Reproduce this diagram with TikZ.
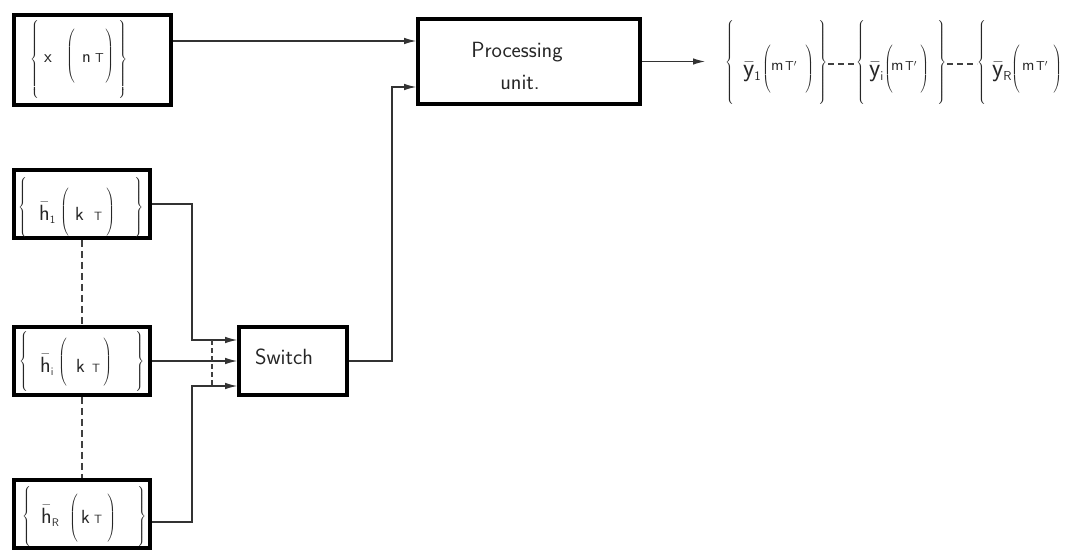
\documentclass[tikz,border=0pt]{standalone}
\usepackage{fix-cm}
\usetikzlibrary{arrows.meta,calc}
\newcommand\dl[1]{\vrule height \dimexpr#1pt+2.5pt+0.25em\relax depth \dimexpr#1pt+2.5pt-0.25em\relax width 0pt}
\newcommand\LB[1]{$\left\{\dl{#1}\right.$}
\newcommand\RB[1]{$\left.\dl{#1}\right\}$}
\newcommand\LP[1]{$\left(\dl{#1}\right.$}
\newcommand\RP[1]{$\left.\dl{#1}\right)$}
\newcommand\at[3]{\rlap{\hspace*{#1pt}\raisebox{#2pt}{#3}}}
\newcommand\fs[1]{\fontsize{#1}{#1}\selectfont}
\newcommand\subx[1]{_{\scriptscriptstyle\mathsf{#1}}}
\begin{document}
\begin{tikzpicture}[x=1pt,y=-1pt,
  box/.style={draw=black, line width=3.6pt, inner sep=0pt},
  ln/.style={line width=1.1pt, draw=black!80},
  arr/.style={ln, -{Latex[length=12pt,width=6.5pt]}},
  dsh/.style={line width=1.1pt, draw=black!75, dash pattern=on 7pt off 4pt},
  lbl/.style={font=\fontsize{22}{26}\selectfont\sffamily, text=black!85},
  fml/.style={font=\fontsize{18}{22}\selectfont, inner sep=0pt, anchor=base west, text=black!85}]
\useasboundingbox (0,0) rectangle (1065,551);
% boxes
\node[box, minimum width=157pt, minimum height=90pt] (xb) at (92.5,60) {};
\node[box, minimum width=222pt, minimum height=85pt] (pu) at (529,61.5) {};
\node[box, minimum width=136pt, minimum height=68pt] (h1) at (82,204) {};
\node[box, minimum width=136pt, minimum height=68pt] (hi) at (82,361) {};
\node[box, minimum width=136pt, minimum height=68pt] (hR) at (82,514) {};
\node[box, minimum width=108pt, minimum height=68pt] (sw) at (293,361) {};
% box texts
\node[fml] (tx) at (30,63) {\makebox[97pt][l]{%
  \at{0}{-1.5}{\LB{39}}%
  \at{14}{0}{\fs{18}$\mathsf{x}$}%
  \at{36}{2}{\LP{25}}%
  \at{52}{0}{\fs{18}$\mathsf{n}$}%
  \at{65}{0}{\fs{13}$\mathsf{T}$}%
  \at{74}{2}{\RP{25}}%
  \at{87}{-1.5}{\RB{39}}}};
\node[fml] (th1) at (14,220) {\makebox[128pt][l]{%
  \at{4}{8.5}{\LB{29}}%
  \at{25}{0}{\fs{22}$\bar{\mathsf{h}}\subx{1}$}%
  \at{46}{3.5}{\LP{23}}%
  \at{61}{0}{\fs{19}$\mathsf{k}$}%
  \at{80}{0}{\fs{12}$\mathsf{T}$}%
  \at{91}{3.5}{\RP{23}}%
  \at{119}{8.5}{\RB{29}}}};
\node[fml] (thi) at (19,372) {\makebox[123pt][l]{%
  \at{0}{6}{\LB{28}}%
  \at{21}{0}{\fs{22}$\bar{\mathsf{h}}\subx{i}$}%
  \at{39}{5.5}{\LP{21}}%
  \at{57}{0}{\fs{19}$\mathsf{k}$}%
  \at{73}{0}{\fs{12}$\mathsf{T}$}%
  \at{83}{5.5}{\RP{21}}%
  \at{115}{6}{\RB{28}}}};
\node[fml] (thR) at (22,523) {\makebox[122pt][l]{%
  \at{0}{2}{\LB{28.5}}%
  \at{19}{0}{\fs{22}$\bar{\mathsf{h}}\subx{R}$}%
  \at{47}{0}{\LP{21.5}}%
  \at{59}{0}{\fs{19}$\mathsf{k}$}%
  \at{72}{0}{\fs{12}$\mathsf{T}$}%
  \at{84}{0}{\RP{21.5}}%
  \at{114}{2}{\RB{28.5}}}};
\node[lbl] (pt) at (517,52) {Processing};
\node[lbl] (ut) at (520,82) {unit.};
\node[lbl] (st) at (284,357) {Switch};
% output texts
\node[fml] (y1) at (725,77) {\makebox[101pt][l]{%
  \at{0}{10}{\LB{39.5}}%
  \at{18}{0}{\fs{26}$\bar{\mathsf{y}}\subx{1}$}%
  \at{37}{3.5}{\LP{21}}%
  \at{46}{6}{\fs{16}$\mathsf{m}$}%
  \at{60}{6}{\fs{13}$\mathsf{T'}$}%
  \at{79}{3.5}{\RP{21}}%
  \at{92}{10}{\RB{39.5}}}};
\node[fml] (yi) at (856,77) {\makebox[89pt][l]{%
  \at{0}{10}{\LB{39.5}}%
  \at{13}{0}{\fs{26}$\bar{\mathsf{y}}\subx{i}$}%
  \at{28}{3.5}{\LP{21}}%
  \at{35}{6}{\fs{16}$\mathsf{m}$}%
  \at{49}{6}{\fs{13}$\mathsf{T'}$}%
  \at{63}{3.5}{\RP{21}}%
  \at{80}{10}{\RB{39.5}}}};
\node[fml] (yR) at (977,77) {\makebox[85pt][l]{%
  \at{0}{10}{\LB{39.5}}%
  \at{15}{0}{\fs{26}$\bar{\mathsf{y}}\subx{R}$}%
  \at{34}{3.5}{\LP{21}}%
  \at{45}{6}{\fs{16}$\mathsf{m}$}%
  \at{59}{6}{\fs{13}$\mathsf{T'}$}%
  \at{75}{3.5}{\RP{21}}}};
\coordinate (d1a) at (828,64);
\coordinate (d1b) at (857,64);
\coordinate (d2a) at (947,64);
\coordinate (d2b) at (977,64);
\draw[dsh, dash pattern=on 6pt off 4pt] (d1a) -- (d1b);
\draw[dsh, dash pattern=on 6pt off 4pt] (d2a) -- (d2b);
% connectors
\coordinate (xo) at ([yshift=19pt]xb.east);
\draw[arr] (xo) -- (xo -| pu.west);
\coordinate (p2) at ([yshift=-25.5pt]pu.west);
\coordinate (bx) at (392,0);
\draw[arr] (sw.east) -| (bx |- p2) -- (p2);
\coordinate (ox) at (705,0);
\draw[arr] (pu.east) -- (pu.east -| ox);
\coordinate (jx) at (192,0);
\coordinate (s1) at ([yshift=21pt]sw.west);
\coordinate (s3) at ([yshift=-25pt]sw.west);
\coordinate (r1) at ([yshift=-8pt]hR.east);
\draw[arr] (h1.east) -| (jx |- s1) -- (s1);
\draw[arr] (hi.east) -- (sw.west);
\draw[arr] (r1) -| (jx |- s3) -- (s3);
\coordinate (dx) at (212,0);
\draw[dsh, dash pattern=on 5pt off 3pt] (dx |- s1) -- (dx |- s3);
\draw[dsh] (h1.south) -- (hi.north);
\draw[dsh] (hi.south) -- (hR.north);
\end{tikzpicture}
\end{document}
